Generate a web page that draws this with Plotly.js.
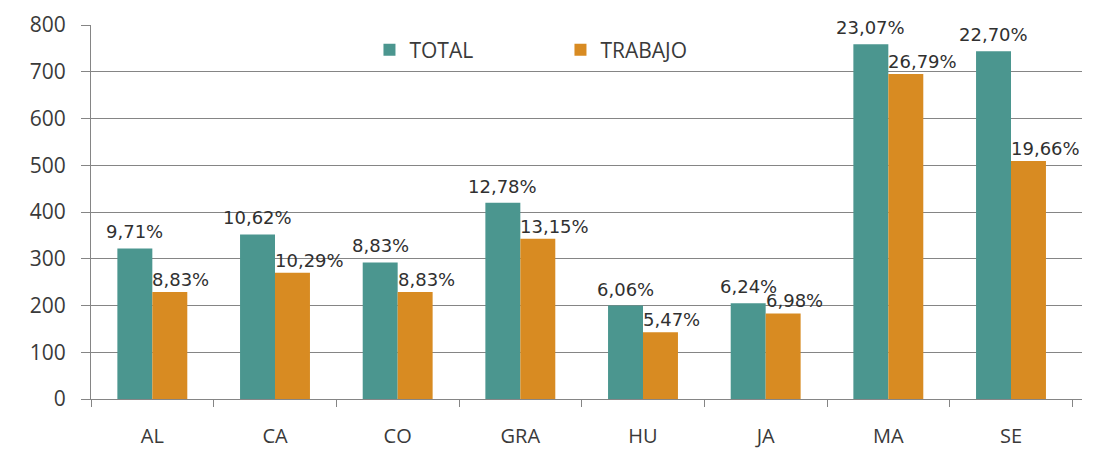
<!DOCTYPE html>
<html>
<head>
<meta charset="utf-8">
<script src="https://cdn.plot.ly/plotly-3.0.1.min.js"></script>
<style>html,body{margin:0;padding:0;background:#fff;}#chart{width:1112px;height:451px;}</style>
</head>
<body>
<div id="chart"></div>
<script>
var categories = ["AL", "CA", "CO", "GRA", "HU", "JA", "MA", "SE"];
var totalValues = [322, 352, 292, 420, 200, 205, 759, 744];
var trabajoValues = [229, 270, 229, 343, 143, 183, 695, 509];
var totalLabels = ["9,71%", "10,62%", "8,83%", "12,78%", "6,06%", "6,24%", "23,07%", "22,70%"];
var trabajoLabels = ["8,83%", "10,29%", "8,83%", "13,15%", "5,47%", "6,98%", "26,79%", "19,66%"];
var yTicks = [0, 100, 200, 300, 400, 500, 600, 700, 800];

var teal = "#4b968f";
var orange = "#d88b22";
var grid = "#858585";

var traces = [
  {type: "bar", name: "TOTAL", x: categories, y: totalValues, marker: {color: teal}, hoverinfo: "skip"},
  {type: "bar", name: "TRABAJO", x: categories, y: trabajoValues, marker: {color: orange}, hoverinfo: "skip"}
];

var labelFont = {family: "DejaVu Sans", size: 18, color: "#303030"};
var annotations = [];
categories.forEach(function (c, i) {
  annotations.push({x: c, y: totalValues[i], text: totalLabels[i], showarrow: false,
    xanchor: "center", yanchor: "bottom", xshift: -17.5, yshift: 4, font: labelFont});
  annotations.push({x: c, y: trabajoValues[i], text: trabajoLabels[i], showarrow: false,
    xanchor: "left", yanchor: "bottom", xshift: -2, yshift: 0, font: labelFont});
});

var tickFont = {family: "Open Sans", size: 21, color: "#3a3a3a"};
var xTickFont = {family: "Open Sans", size: 20, color: "#3a3a3a"};

var layout = {
  width: 1112, height: 451,
  margin: {l: 91, r: 30, t: 25, b: 52},
  paper_bgcolor: "#ffffff", plot_bgcolor: "#ffffff",
  barmode: "group", bargap: 0.43, bargroupgap: 0,
  font: {family: "Open Sans", size: 21, color: "#3a3a3a"},
  showlegend: true,
  legend: {orientation: "h", x: 0.281, xanchor: "left", y: 0.933, yanchor: "middle",
    bgcolor: "rgba(0,0,0,0)", font: {family: "Open Sans", size: 21, color: "#3a3a3a"},
    entrywidth: 146, itemclick: false},
  xaxis: {type: "category", showline: true, linecolor: grid, linewidth: 1,
    ticks: "outside", tickson: "boundaries", ticklen: 7, tickcolor: grid,
    ticklabelstandoff: 19, showgrid: false, fixedrange: true, tickfont: xTickFont},
  yaxis: {range: [0, 800], tickvals: yTicks, ticktext: yTicks.map(String),
    showline: true, linecolor: grid, linewidth: 1, showgrid: true, gridcolor: grid, gridwidth: 1,
    ticks: "outside", ticklen: 9, tickcolor: grid, ticklabelstandoff: 11, zeroline: false,
    fixedrange: true, tickfont: tickFont},
  annotations: annotations
};

Plotly.newPlot("chart", traces, layout, {displayModeBar: false, staticPlot: true});
</script>
</body>
</html>
